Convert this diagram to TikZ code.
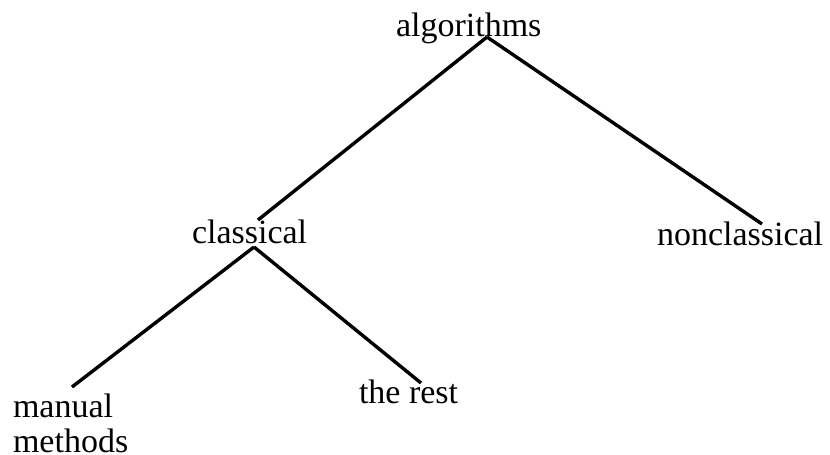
\documentclass[tikz,border=0pt]{standalone}
\usepackage{fontspec}
\setmainfont{Liberation Serif}
\begin{document}
\begin{tikzpicture}[x=1pt,y=-1pt,
  lbl/.style={anchor=base west,inner sep=0pt,outer sep=0pt,font=\fontsize{34}{35}\selectfont},
  edge/.style={line width=3.4pt,black}]
\useasboundingbox (0,0) rectangle (830,455);
\node[lbl] (alg) at (396,36) {algorithms};
\node[lbl] (cls) at (192,243) {classical};
\node[lbl] (ncl) at (657,245) {nonclassical};
\node[lbl,align=left] (man) at (13,452) {manual\\methods};
\node[lbl] (rest) at (359,403) {the rest};
\coordinate (algB) at ([shift={(91,1)}]alg.base west);
\coordinate (clsT) at ([shift={(66,-23)}]cls.base west);
\coordinate (clsB) at ([shift={(62,4)}]cls.base west);
\coordinate (nclT) at ([shift={(105,-21)}]ncl.base west);
\coordinate (restT) at ([shift={(62,-20)}]rest.base west);
\coordinate (manT) at ([shift={(59,-65)}]man.base west);
\draw[edge] (algB) -- (clsT);
\draw[edge] (algB) -- (nclT);
\draw[edge] (clsB) -- (manT);
\draw[edge] (clsB) -- (restT);
\end{tikzpicture}
\end{document}
